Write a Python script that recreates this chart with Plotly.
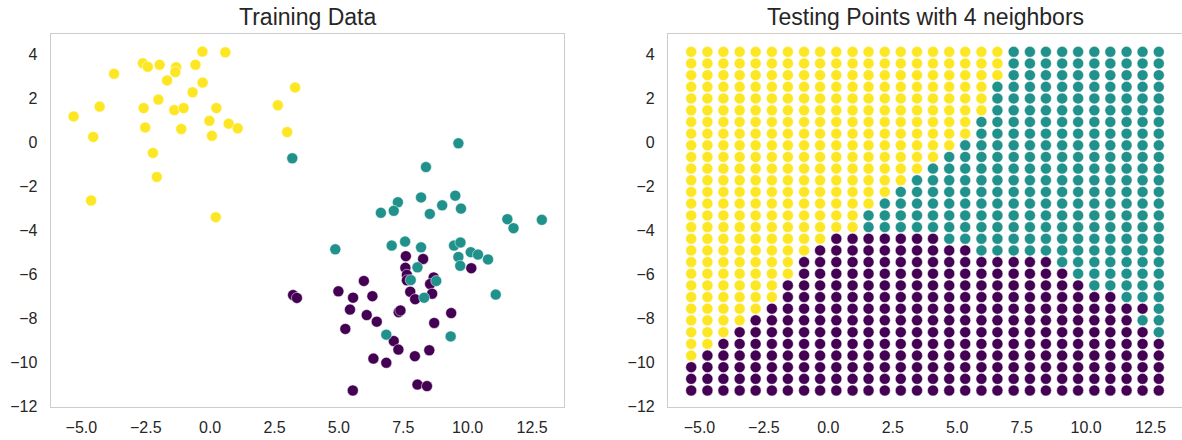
import plotly.graph_objects as go

# ---------------- data ----------------
yellow_x = [-0.30, 0.59, -2.61, -2.42, -1.96, -1.32, -1.35, -0.57, -3.73, -1.67, -0.29, -0.68,
            3.30, 2.63, -4.29, -5.30, -2.58, -2.01, -1.39, -1.03, 0.24, -0.03, 0.72, 1.07,
            0.07, -1.12, -2.52, -4.54, 2.99, -2.22, -2.07, -4.62, 0.22]
yellow_y = [4.13, 4.10, 3.60, 3.44, 3.53, 3.42, 3.20, 3.53, 3.12, 2.82, 2.72, 2.28,
            2.50, 1.69, 1.63, 1.18, 1.56, 1.95, 1.47, 1.56, 1.56, 0.98, 0.85, 0.64,
            0.30, 0.61, 0.68, 0.25, 0.47, -0.48, -1.57, -2.64, -3.40]

teal_x = [3.19, 9.64, 8.38, 7.29, 6.63, 7.13, 8.19, 8.53, 9.01, 9.52, 9.74, 11.54, 11.78,
          12.88, 4.86, 7.05, 7.57, 8.19, 9.47, 9.72, 9.64, 9.71, 10.12, 10.40, 10.79, 8.05,
          7.79, 8.78, 8.31, 11.09, 6.84, 9.34]
teal_y = [-0.72, -0.04, -1.12, -2.72, -3.20, -3.11, -2.50, -3.25, -2.86, -2.42, -3.01, -3.49,
          -3.90, -3.52, -4.86, -4.69, -4.51, -4.77, -4.69, -4.55, -5.21, -5.61, -4.99, -5.10,
          -5.32, -5.68, -6.26, -6.30, -7.06, -6.92, -8.74, -8.82]

purple_x = [7.60, 8.27, 7.58, 7.64, 7.64, 10.14, 8.68, 8.54, 7.77, 7.96, 8.62, 5.97, 4.98,
            5.55, 6.30, 5.43, 6.08, 6.47, 7.32, 7.39, 9.36, 8.70, 5.25, 7.13, 7.31, 6.34,
            6.84, 7.95, 8.51, 5.54, 8.05, 8.42, 3.22, 3.37]
purple_y = [-5.17, -5.30, -5.70, -6.02, -6.27, -5.72, -6.14, -6.44, -6.79, -7.13, -6.88, -6.30,
            -6.77, -7.06, -6.99, -7.60, -7.85, -8.15, -7.72, -7.64, -7.76, -8.21, -8.48, -9.03,
            -9.42, -9.83, -10.02, -9.72, -9.45, -11.28, -11.01, -11.08, -6.94, -7.07]

# test grid (column x positions, row y positions from top to bottom)
grid_x = [-5.32, -4.69, -4.07, -3.44, -2.82, -2.19, -1.57, -0.94, -0.32, 0.31,
          0.94, 1.56, 2.19, 2.81, 3.44, 4.06, 4.69, 5.31, 5.94, 6.56,
          7.19, 7.82, 8.44, 9.07, 9.69, 10.32, 10.94, 11.57, 12.19, 12.82]
grid_y = [4.12, 3.59, 3.06, 2.53, 2.00, 1.46, 0.93, 0.40, -0.13, -0.66,
          -1.19, -1.72, -2.25, -2.78, -3.32, -3.85, -4.38, -4.91, -5.44, -5.97,
          -6.50, -7.03, -7.56, -8.09, -8.63, -9.16, -9.69, -10.22, -10.75, -11.28]

# predicted class per row (run lengths, left to right), rows top to bottom
grid_runs = [
    [("Y", 20), ("T", 10)],
    [("Y", 20), ("T", 10)],
    [("Y", 20), ("T", 10)],
    [("Y", 19), ("T", 11)],
    [("Y", 19), ("T", 11)],
    [("Y", 19), ("T", 11)],
    [("Y", 18), ("T", 12)],
    [("Y", 18), ("T", 12)],
    [("Y", 17), ("T", 13)],
    [("Y", 16), ("T", 14)],
    [("Y", 15), ("T", 15)],
    [("Y", 14), ("T", 16)],
    [("Y", 13), ("T", 17)],
    [("Y", 12), ("T", 18)],
    [("Y", 11), ("T", 19)],
    [("Y", 11), ("T", 19)],
    [("Y", 9), ("P", 7), ("T", 14)],
    [("Y", 8), ("P", 10), ("T", 12)],
    [("Y", 7), ("P", 16), ("T", 7)],
    [("Y", 7), ("P", 17), ("T", 6)],
    [("Y", 6), ("P", 19), ("T", 5)],
    [("Y", 6), ("P", 21), ("T", 3)],
    [("Y", 5), ("P", 24), ("T", 1)],
    [("Y", 4), ("P", 24), ("T", 2)],
    [("Y", 3), ("P", 26), ("T", 1)],
    [("Y", 2), ("P", 28)],
    [("Y", 1), ("P", 29)],
    [("P", 30)],
    [("P", 30)],
    [("P", 30)],
]

x_tickvals = [-5.0, -2.5, 0.0, 2.5, 5.0, 7.5, 10.0, 12.5]
x_ticktext = ["\u22125.0", "\u22122.5", "0.0", "2.5", "5.0", "7.5", "10.0", "12.5"]
y_tickvals = [-12, -10, -8, -6, -4, -2, 0, 2, 4]
y_ticktext = ["\u221212", "\u221210", "\u22128", "\u22126", "\u22124", "\u22122", "0", "2", "4"]

titles = ["Training Data", "Testing Points with 4 neighbors"]

# ---------------- styling ----------------
COLORS = {"P": "#440154", "T": "#21918c", "Y": "#fde725"}
FONT = "Liberation Sans, Arial, sans-serif"
TXT = "#262626"
W, H = 1182, 440
ML, MR, MT, MB = 0, 0, 34, 33
dom1 = [50.7 / W, 564.0 / W]
dom2 = [668.0 / W, 1.0]
Y_RANGE = [-12.03, 4.93]

fig = go.Figure()

# training data: one trace per class
for xs, ys, key in [(purple_x, purple_y, "P"), (teal_x, teal_y, "T"), (yellow_x, yellow_y, "Y")]:
    fig.add_trace(go.Scatter(
        x=xs, y=ys, mode="markers", xaxis="x", yaxis="y", showlegend=False,
        marker=dict(size=11, color=COLORS[key], line=dict(width=0.5, color="white")),
    ))

# test grid
gx, gy, gc = [], [], []
for yv, runs in zip(grid_y, grid_runs):
    labels = []
    for lab, n in runs:
        labels.extend([lab] * n)
    for xv, lab in zip(grid_x, labels):
        gx.append(xv)
        gy.append(yv)
        gc.append(COLORS[lab])
fig.add_trace(go.Scatter(
    x=gx, y=gy, mode="markers", xaxis="x2", yaxis="y2", showlegend=False,
    marker=dict(size=11, color=gc, line=dict(width=0.5, color="white")),
))

axis_common = dict(
    showline=True, linecolor="#cccccc", linewidth=1.25, mirror=True,
    showgrid=False, zeroline=False, ticks="outside",
    tickcolor="rgba(0,0,0,0)", tickfont=dict(family=FONT, size=16, color=TXT),
)

fig.update_layout(
    width=W, height=H,
    margin=dict(l=ML, r=MR, t=MT, b=MB),
    paper_bgcolor="white", plot_bgcolor="white",
    xaxis=dict(domain=dom1, range=[-6.19, 13.74], tickvals=x_tickvals, ticktext=x_ticktext,
               anchor="y", ticklen=6, **axis_common),
    yaxis=dict(domain=[0, 1], range=Y_RANGE, tickvals=y_tickvals, ticktext=y_ticktext,
               anchor="x", ticklen=9, **axis_common),
    xaxis2=dict(domain=dom2, range=[-6.22, 13.72], tickvals=x_tickvals, ticktext=x_ticktext,
                anchor="y2", ticklen=6, **axis_common),
    yaxis2=dict(domain=[0, 1], range=Y_RANGE, tickvals=y_tickvals, ticktext=y_ticktext,
                anchor="x2", ticklen=9, **axis_common),
)

plot_h = H - MT - MB
for dom, t in zip([dom1, dom2], titles):
    fig.add_annotation(
        text=t, xref="paper", yref="paper",
        x=(dom[0] + dom[1]) / 2, y=1 + (MT - 17) / plot_h,
        xanchor="center", yanchor="middle", showarrow=False,
        font=dict(family=FONT, size=23, color=TXT),
    )

fig.write_html(
    "out.html",
    config={"displayModeBar": False},
    post_script="document.body.style.margin='0px';document.body.style.overflow='hidden';",
)
